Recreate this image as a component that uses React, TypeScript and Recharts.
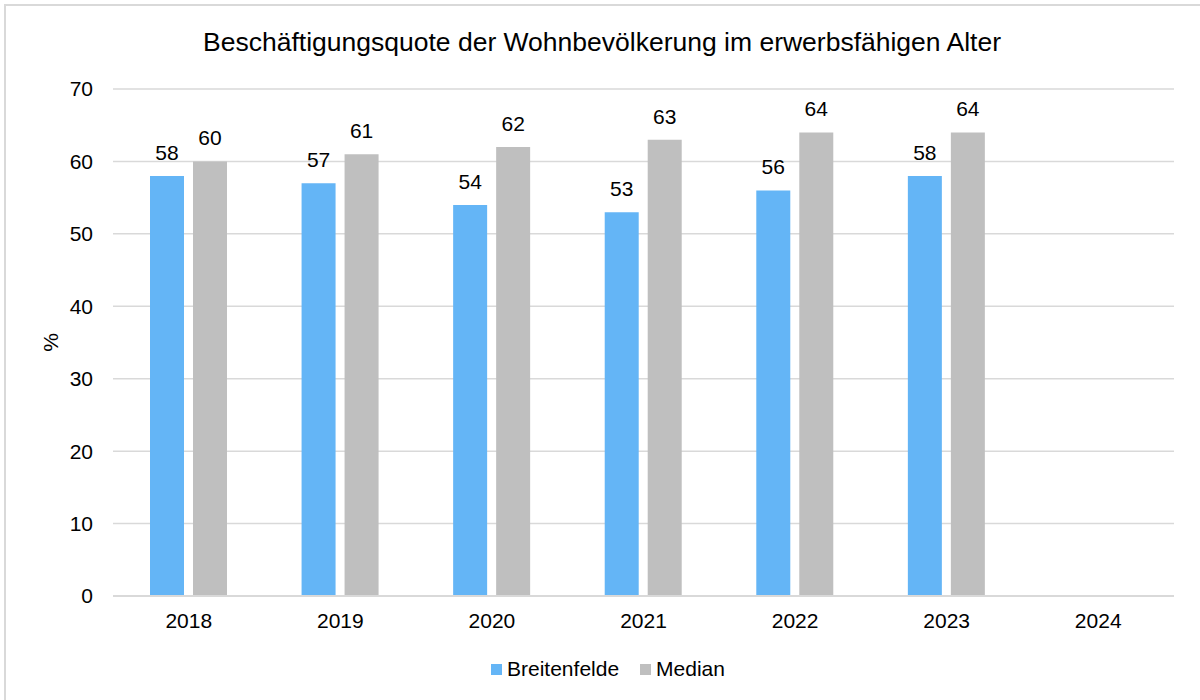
import { BarChart, Bar, XAxis, YAxis, CartesianGrid, LabelList } from "recharts";

const years = ["2018", "2019", "2020", "2021", "2022", "2023", "2024"];
const breitenfelde = [58, 57, 54, 53, 56, 58, null];
const median = [60, 61, 62, 63, 64, 64, null];
const yTicks = [0, 10, 20, 30, 40, 50, 60, 70];

const data = years.map((year, i) => ({
  year,
  Breitenfelde: breitenfelde[i],
  Median: median[i],
}));

const FONT = '"Liberation Sans", Arial, sans-serif';
const BLUE = "#64B5F6";
const GRAY = "#BFBFBF";

const YLabel = ({ viewBox }: any) => {
  const x = viewBox.x - 3;
  const y = viewBox.y + viewBox.height / 2;
  return (
    <text
      x={x}
      y={y}
      transform={`rotate(-90, ${x}, ${y})`}
      textAnchor="middle"
      dominantBaseline="central"
      fontSize={21}
      fill="#000"
      fontFamily={FONT}
    >
      %
    </text>
  );
};

const legendItems = [
  { name: "Breitenfelde", color: BLUE },
  { name: "Median", color: GRAY },
];

const App = () => {
  return (
    <div
      style={{
        position: "absolute",
        left: 0,
        top: 0,
        width: 1200,
        height: 700,
        overflow: "hidden",
        background: "#fff",
        fontFamily: FONT,
      }}
    >
      {/* BORDER */}
      <div
        style={{
          position: "absolute",
          left: 4,
          top: 4,
          width: 1210,
          height: 710,
          border: "2px solid #d9d9d9",
        }}
      />

      {/* TITLE */}
      <div
        style={{
          position: "absolute",
          top: 27,
          left: 0,
          width: 1204,
          textAlign: "center",
          fontSize: 26.5,
          lineHeight: "30px",
          color: "#000",
        }}
      >
        Beschäftigungsquote der Wohnbevölkerung im erwerbsfähigen Alter
      </div>

      {/* CHART */}
      <div style={{ position: "absolute", left: 0, top: 0 }}>
        <BarChart
          width={1200}
          height={700}
          data={data}
          barSize={34}
          barGap={9}
          margin={{ top: 89, right: 26, bottom: 74, left: 53 }}
        >
          <CartesianGrid vertical={false} stroke="#d9d9d9" strokeWidth={1.5} />
          <XAxis
            dataKey="year"
            axisLine={{ stroke: "#d9d9d9", strokeWidth: 2 }}
            tickLine={false}
            tickSize={0}
            tickMargin={17}
            height={30}
            tick={{ fill: "#000", fontSize: 21, fontFamily: FONT }}
          />
          <YAxis
            width={60}
            domain={[0, 70]}
            ticks={yTicks}
            axisLine={false}
            tickLine={false}
            tickSize={0}
            tickMargin={20}
            tick={{ fill: "#000", fontSize: 21, fontFamily: FONT }}
            label={<YLabel />}
          />
          <Bar dataKey="Breitenfelde" fill={BLUE} isAnimationActive={false}>
            <LabelList
              dataKey="Breitenfelde"
              position="top"
              offset={16}
              fill="#000"
              fontSize={21}
              fontFamily={FONT}
            />
          </Bar>
          <Bar dataKey="Median" fill={GRAY} isAnimationActive={false}>
            <LabelList
              dataKey="Median"
              position="top"
              offset={16}
              fill="#000"
              fontSize={21}
              fontFamily={FONT}
            />
          </Bar>
        </BarChart>
      </div>

      {/* LEGEND */}
      <div
        style={{
          position: "absolute",
          top: 656,
          left: 8,
          width: 1200,
          display: "flex",
          justifyContent: "center",
          alignItems: "center",
          fontSize: 21,
          lineHeight: "26px",
          color: "#000",
        }}
      >
        {legendItems.map((item, i) => (
          <div
            key={item.name}
            style={{ display: "flex", alignItems: "center", marginLeft: i ? 21 : 0 }}
          >
            <span
              style={{
                width: 11,
                height: 11,
                background: item.color,
                display: "inline-block",
                marginRight: 5,
              }}
            />
            <span>{item.name}</span>
          </div>
        ))}
      </div>
    </div>
  );
};

export default App;
